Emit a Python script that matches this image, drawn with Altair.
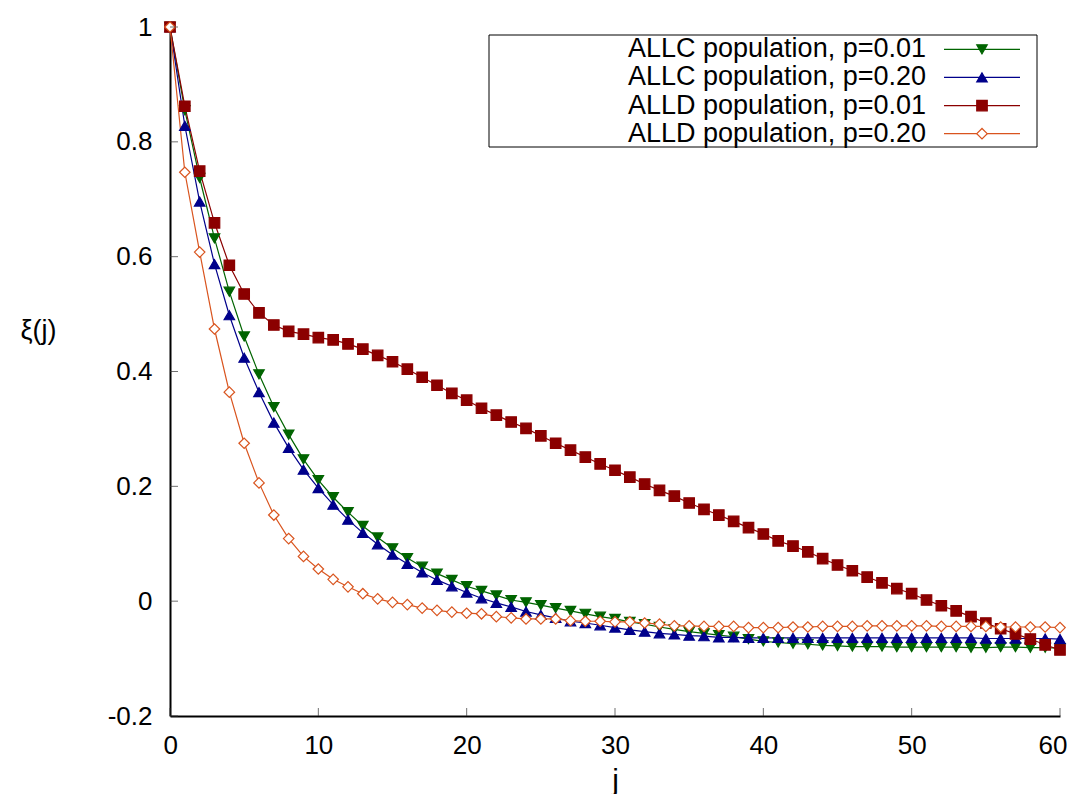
import altair as alt
import pandas as pd

# ---------------- data ----------------
j_values = list(range(61))
series_names = [
    "ALLC population, p=0.01",
    "ALLC population, p=0.20",
    "ALLD population, p=0.01",
    "ALLD population, p=0.20",
]

allc_p001 = [1.0, 0.855, 0.737, 0.632, 0.539, 0.461, 0.395, 0.338, 0.290, 0.247,
             0.211, 0.181, 0.155, 0.131, 0.111, 0.092, 0.075, 0.060, 0.048, 0.037,
             0.026, 0.018, 0.010, 0.002, -0.002, -0.007, -0.012, -0.017, -0.022, -0.027,
             -0.031, -0.036, -0.040, -0.045, -0.049, -0.053, -0.056, -0.059, -0.062, -0.066,
             -0.070, -0.072, -0.074, -0.075, -0.077, -0.078, -0.079, -0.079, -0.079, -0.080,
             -0.080, -0.080, -0.080, -0.080, -0.081, -0.081, -0.080, -0.080, -0.081, -0.081,
             -0.082]

allc_p020 = [1.0, 0.828, 0.696, 0.587, 0.498, 0.424, 0.364, 0.311, 0.267, 0.229,
             0.197, 0.168, 0.142, 0.119, 0.099, 0.081, 0.065, 0.050, 0.037, 0.026,
             0.015, 0.005, -0.003, -0.010, -0.018, -0.024, -0.029, -0.035, -0.038, -0.042,
             -0.046, -0.050, -0.053, -0.056, -0.058, -0.060, -0.061, -0.063, -0.063, -0.064,
             -0.064, -0.064, -0.064, -0.064, -0.064, -0.064, -0.064, -0.064, -0.064, -0.064,
             -0.064, -0.064, -0.064, -0.064, -0.064, -0.065, -0.065, -0.065, -0.065, -0.065,
             -0.066]

alld_p001 = [1.0, 0.862, 0.749, 0.659, 0.585, 0.535, 0.502, 0.481, 0.470, 0.465,
             0.459, 0.455, 0.448, 0.439, 0.428, 0.417, 0.404, 0.390, 0.376, 0.362,
             0.350, 0.336, 0.324, 0.312, 0.301, 0.288, 0.275, 0.263, 0.251, 0.239,
             0.228, 0.216, 0.204, 0.193, 0.183, 0.171, 0.160, 0.150, 0.139, 0.128,
             0.117, 0.105, 0.096, 0.086, 0.074, 0.063, 0.053, 0.042, 0.032, 0.022,
             0.013, 0.002, -0.008, -0.017, -0.027, -0.038, -0.048, -0.057, -0.066, -0.076,
             -0.085]

alld_p020 = [1.0, 0.747, 0.608, 0.474, 0.364, 0.275, 0.206, 0.150, 0.109, 0.078,
             0.056, 0.038, 0.025, 0.013, 0.004, -0.002, -0.006, -0.012, -0.016, -0.019,
             -0.021, -0.022, -0.027, -0.029, -0.031, -0.031, -0.031, -0.034, -0.035, -0.035,
             -0.036, -0.036, -0.038, -0.040, -0.043, -0.043, -0.044, -0.044, -0.044, -0.046,
             -0.046, -0.046, -0.045, -0.045, -0.044, -0.044, -0.044, -0.043, -0.043, -0.043,
             -0.043, -0.043, -0.044, -0.044, -0.044, -0.044, -0.045, -0.045, -0.045, -0.045,
             -0.046]

x_ticks = [0, 10, 20, 30, 40, 50, 60]
y_ticks = [-0.2, 0.0, 0.2, 0.4, 0.6, 0.8, 1.0]

colors = ["#006400", "#00008b", "#8b0000", "#d9541e"]
fills = ["#006400", "#00008b", "#8b0000", "#ffffff"]
shapes = ["triangle-down", "triangle-up", "square", "diamond"]
sizes = [110, 110, 130, 100]

# ---------------- tables ----------------
all_series = [allc_p001, allc_p020, alld_p001, alld_p020]
rows = []
for name, vals in zip(series_names, all_series):
    for jj, v in zip(j_values, vals):
        rows.append({"series": name, "j": jj, "xi": v})
df = pd.DataFrame(rows)

legend_df = pd.DataFrame({"series": series_names, "row": list(range(len(series_names)))})
xtick_df = pd.DataFrame({"j": x_ticks})
ytick_df = pd.DataFrame({"xi": y_ticks})

FONT = "Liberation Sans"
W, H = 890, 689

color_scale = alt.Scale(domain=series_names, range=colors)
fill_scale = alt.Scale(domain=series_names, range=fills)
shape_scale = alt.Scale(domain=series_names, range=shapes)
size_scale = alt.Scale(domain=series_names, range=sizes)

x_scale = alt.Scale(domain=[0, 60], nice=False, zero=False)
y_scale = alt.Scale(domain=[-0.2, 1.0], nice=False, zero=False)

x_axis = alt.Axis(
    values=x_ticks, format="d", title="j", grid=False,
    ticks=False, tickSize=0, labelFlush=True, labelFlushOffset=7,
    labelFont="Liberation Sans Narrow, Liberation Sans", labelFontSize=26,
    labelColor="black", labelPadding=16,
    titleFont=FONT, titleFontSize=30, titleFontWeight="normal", titleColor="black",
    titleY=73, titleBaseline="alphabetic",
    domainColor="black", domainWidth=2,
)
y_axis = alt.Axis(
    values=y_ticks, labelExpr="'' + round(datum.value * 10) / 10",
    title="ξ(j)", grid=False, ticks=False, tickSize=0,
    labelFont=FONT, labelFontSize=26, labelColor="black", labelPadding=18,
    titleFont=FONT, titleFontSize=27, titleFontWeight="normal", titleColor="black",
    titleAngle=0, titleX=-132, titleY=303, titleAlign="center", titleBaseline="middle",
    domainColor="black", domainWidth=2,
)

x_enc = alt.X("j:Q", scale=x_scale, axis=x_axis)
y_enc = alt.Y("xi:Q", scale=y_scale, axis=y_axis)

lines = alt.Chart(df).mark_line(strokeWidth=1.2).encode(
    x=x_enc, y=y_enc,
    color=alt.Color("series:N", scale=color_scale, legend=None),
)

points = alt.Chart(df).mark_point(opacity=1, filled=False, strokeWidth=1.2).encode(
    x=x_enc, y=y_enc,
    shape=alt.Shape("series:N", scale=shape_scale, legend=None),
    fill=alt.Fill("series:N", scale=fill_scale, legend=None),
    stroke=alt.Stroke("series:N", scale=color_scale, legend=None),
    size=alt.Size("series:N", scale=size_scale, legend=None),
)

yticks = alt.Chart(ytick_df).mark_tick(orient="horizontal", size=8, thickness=1, xOffset=4, color="#333333").encode(
    x=alt.value(0), y=y_enc,
)
xticks = alt.Chart(xtick_df).mark_tick(orient="vertical", size=8, thickness=1, yOffset=-4, color="#333333").encode(
    x=x_enc, y=alt.value(H),
)

data_layer = alt.layer(lines, points, yticks, xticks)

# ---------------- key (legend) ----------------
row_y = alt.Y("row:Q", scale=alt.Scale(domain=[0, 3], range=[22.3, 106.7]), axis=None)

key_box = alt.Chart(pd.DataFrame({"k": [0]})).mark_rect(
    fill="white", stroke="black", strokeWidth=1
).encode(x=alt.value(319), x2=alt.value(867), y=alt.value(8), y2=alt.value(120))

key_text = alt.Chart(legend_df).mark_text(
    align="right", baseline="middle", font=FONT, fontSize=27, color="black"
).encode(x=alt.value(756), y=row_y, text="series:N")

key_lines = alt.Chart(legend_df).mark_rule(strokeWidth=1.2).encode(
    x=alt.value(774), x2=alt.value(850), y=row_y,
    color=alt.Color("series:N", scale=color_scale, legend=None),
)

key_points = alt.Chart(legend_df).mark_point(opacity=1, filled=False, strokeWidth=1.2).encode(
    x=alt.value(812), y=row_y,
    shape=alt.Shape("series:N", scale=shape_scale, legend=None),
    fill=alt.Fill("series:N", scale=fill_scale, legend=None),
    stroke=alt.Stroke("series:N", scale=color_scale, legend=None),
    size=alt.Size("series:N", scale=size_scale, legend=None),
)

key_layer = alt.layer(key_box, key_lines, key_points, key_text)

chart = alt.layer(data_layer, key_layer).resolve_scale(y="independent").properties(
    width=W, height=H,
    autosize=alt.AutoSizeParams(type="none"),
    padding={"left": 162, "top": 19, "right": 7, "bottom": 78},
    background="white",
).configure_view(stroke=None)

chart.save("out.html", embed_options={"renderer": "svg", "actions": False})
